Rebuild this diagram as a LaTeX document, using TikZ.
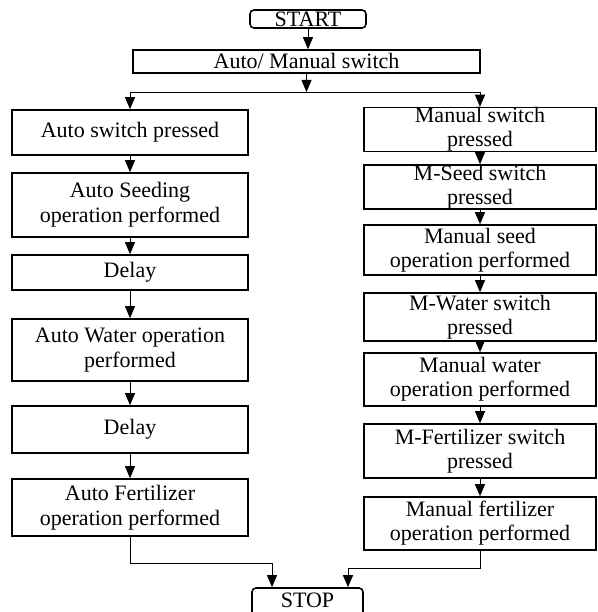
\documentclass[tikz,border=0pt]{standalone}
\usepackage{fontspec}
\setmainfont{Liberation Serif}
\usetikzlibrary{positioning, arrows.meta}

\begin{document}
\begin{tikzpicture}[
    x=1pt, y=-1pt,
    every node/.style={font=\fontsize{22}{25}\selectfont, align=center},
    stepbox/.style={draw, line width=1.6pt, minimum width=236pt, inner xsep=0pt, inner ysep=0pt},
    mbox/.style={stepbox, minimum width=232pt, font=\fontsize{22}{24}\selectfont},
    termbox/.style={draw, line width=1.6pt, rounded corners=4pt, inner sep=0pt, text height=15pt, text depth=0pt},
    arr/.style={-{Triangle[width=10pt,length=12pt]}, line width=0.8pt}
]
\useasboundingbox (0,0) rectangle (597,612);

% start and mode selection
\node[termbox, minimum width=116pt, minimum height=18pt] (start) at (308,19) {START};
\node[stepbox, minimum width=347pt, minimum height=23pt, text height=15pt, text depth=0pt] (mode) at (306.5,61.5) {Auto/ Manual switch};

% auto branch
\node[stepbox, minimum height=45pt] (a1) at (130,132.5) {Auto switch pressed};
\node[stepbox, minimum height=64pt] (a2) at (130,205) {Auto Seeding\\operation performed};
\node[stepbox, minimum height=35pt] (a3) at (130,272.5) {Delay};
\node[stepbox, minimum height=62pt] (a4) at (130,350) {Auto Water operation\\performed};
\node[stepbox, minimum height=47pt] (a5) at (130,429.5) {Delay};
\node[stepbox, minimum height=57pt] (a6) at (130,507.5) {Auto Fertilizer\\operation performed};

% manual branch
\node[mbox, minimum height=43pt] (m1) at (480,129.5) {Manual switch\\pressed};
\node[mbox, minimum height=44pt] (m2) at (480,187) {M-Seed switch\\pressed};
\node[mbox, minimum height=50pt] (m3) at (480,250) {Manual seed\\operation performed};
\node[mbox, minimum height=48pt] (m4) at (480,317) {M-Water switch\\pressed};
\node[mbox, minimum height=53pt] (m5) at (480,379.5) {Manual water\\operation performed};
\node[mbox, minimum height=54pt] (m6) at (480,451) {M-Fertilizer switch\\pressed};
\node[mbox, minimum height=53pt] (m7) at (480,523.5) {Manual fertilizer\\operation performed};

\node[termbox, minimum width=111pt, minimum height=30pt, text depth=6pt] (stop) at (307.5,603) {STOP};

\coordinate (split) at (306.5,92);
\coordinate (joinL) at (272,563);
\coordinate (joinR) at (348,568);

% connectors
\draw[arr] (start.south) -- (start.south |- mode.north);
\draw[arr] (mode.south) -- (split);
\draw[arr] (split) -| (a1.north);
\draw[arr] (split) -| (m1.north);
\foreach \p/\q in {a1/a2, a2/a3, a3/a4, a4/a5, a5/a6, m1/m2, m2/m3, m3/m4, m4/m5, m5/m6, m6/m7}
    \draw[arr] (\p.south) -- (\q.north);
\draw[arr] (a6.south) |- (joinL) -- (joinL |- stop.north);
\draw[arr] (m7.south) |- (joinR) -- (joinR |- stop.north);
\end{tikzpicture}
\end{document}
